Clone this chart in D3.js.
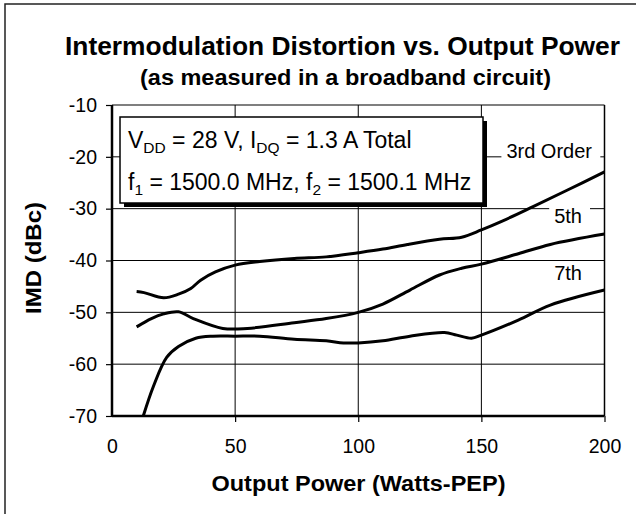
<!DOCTYPE html>
<html><head><meta charset="utf-8">
<script src="https://cdn.jsdelivr.net/npm/d3@7"></script>
<style>
html,body{margin:0;padding:0;background:#fff;}
svg{display:block;font-family:"Liberation Sans",Arial,sans-serif;}
</style></head>
<body>
<script>
// ---- data ----
const xTicks = [0, 50, 100, 150, 200];
const yTicks = [-70, -60, -50, -40, -30, -20, -10];

const power3 = [10, 13, 21, 27, 32, 36, 42, 50, 60, 74, 87, 100, 110, 120, 133, 142, 150, 158, 171, 185, 200];
const imd3   = [-46.0, -46.2, -47.2, -46.5, -45.4, -43.8, -42.2, -40.9, -40.2, -39.6, -39.3, -38.5, -37.8, -36.9, -35.9, -35.5, -34.1, -32.5, -29.6, -26.4, -22.9];

const power5 = [10, 16, 21, 27, 33, 45, 55, 74, 87, 100, 110, 121, 133, 142, 150, 165, 178, 200];
const imd5   = [-52.8, -51.2, -50.3, -49.9, -51.2, -53.1, -53.1, -52.0, -51.2, -50.0, -48.4, -45.7, -42.8, -41.5, -40.7, -38.7, -36.9, -34.9];

const power7 = [12.7, 16.8, 22.2, 27, 34, 41, 50, 60, 74, 87, 94, 100, 110, 121, 135, 140, 146, 150, 165, 178, 200];
const imd7   = [-70, -64.3, -58.7, -56.6, -55.0, -54.6, -54.6, -54.6, -55.2, -55.5, -55.9, -55.9, -55.5, -54.6, -53.9, -54.4, -55.0, -54.4, -51.5, -48.6, -45.7];

const seriesLabels = ["3rd Order", "5th", "7th"];
const titleText = "Intermodulation Distortion vs. Output Power";
const subtitleText = "(as measured in a broadband circuit)";
const xTitle = "Output Power (Watts-PEP)";
const yTitle = "IMD (dBc)";

// ---- layout ----
const W = 636, H = 514;
const svg = d3.select("body").append("svg").attr("width", W).attr("height", H);

const x = d3.scaleLinear().domain([0, 200]).range([112, 604.5]);
const y = d3.scaleLinear().domain([-70, -10]).range([416, 105]);
const labelBaselines = [158, 223, 280];

// outer frame
svg.append("rect").attr("x", 5).attr("y", 4).attr("width", 700).attr("height", 600)
  .attr("fill", "none").attr("stroke", "#222").attr("stroke-width", 1.5);

// titles
svg.append("text").attr("x", 342.5).attr("y", 55).attr("text-anchor", "middle")
  .attr("font-weight", "bold").attr("font-size", 26)
  .attr("textLength", 555).attr("lengthAdjust", "spacingAndGlyphs").text(titleText);
svg.append("text").attr("x", 345.5).attr("y", 85).attr("text-anchor", "middle")
  .attr("font-weight", "bold").attr("font-size", 22)
  .attr("textLength", 411).attr("lengthAdjust", "spacingAndGlyphs").text(subtitleText);

// gridlines
const g = svg.append("g");
g.selectAll("line.hg").data(yTicks.filter(v => v > -70 && v < -10)).join("line")
  .attr("x1", x(0)).attr("x2", x(200)).attr("y1", d => y(d)).attr("y2", d => y(d))
  .attr("stroke", "#000").attr("stroke-width", 1);
g.selectAll("line.vg").data(xTicks.filter(v => v > 0 && v < 200)).join("line")
  .attr("x1", d => x(d)).attr("x2", d => x(d)).attr("y1", y(-10)).attr("y2", y(-70))
  .attr("stroke", "#000").attr("stroke-width", 1);
g.append("line").attr("x1", x(0)).attr("x2", x(200)).attr("y1", y(-10)).attr("y2", y(-10)).attr("stroke", "#000").attr("stroke-width", 1.2);
g.append("line").attr("x1", x(200)).attr("x2", x(200)).attr("y1", y(-10)).attr("y2", y(-70)).attr("stroke", "#000").attr("stroke-width", 1.5);

// axes
const fmt = d => String(d);
const yAxis = svg.append("g").attr("transform", `translate(${x(0)},0)`)
  .call(d3.axisLeft(y).tickValues(yTicks).tickSize(6).tickPadding(9).tickFormat(fmt));
const xAxis = svg.append("g").attr("transform", `translate(0,${y(-70)})`)
  .call(d3.axisBottom(x).tickValues(xTicks).tickSize(6).tickPadding(17).tickFormat(fmt));
[yAxis, xAxis].forEach(a => {
  a.select(".domain").attr("stroke", "#000").attr("stroke-width", 2.5);
  a.selectAll(".tick line").attr("stroke", "#000").attr("stroke-width", 1.2);
  a.selectAll(".tick text").attr("font-size", 19.5).attr("fill", "#000")
    .attr("font-family", "'Liberation Sans', Arial, sans-serif");
});
xAxis.select(".domain").attr("d", `M${x(0)},0H${x(200)}`);
yAxis.select(".domain").attr("d", `M0,${y(-10)}V${y(-70)}`);
xAxis.selectAll(".tick").filter(d => d === 0).select("line").remove();

// axis titles
svg.append("text").attr("x", 358.5).attr("y", 491).attr("text-anchor", "middle")
  .attr("font-weight", "bold").attr("font-size", 22)
  .attr("textLength", 294).attr("lengthAdjust", "spacingAndGlyphs").text(xTitle);
svg.append("text").attr("transform", "translate(41,258) rotate(-90)").attr("text-anchor", "middle")
  .attr("font-weight", "bold").attr("font-size", 22)
  .attr("textLength", 112).attr("lengthAdjust", "spacingAndGlyphs").text(yTitle);

// curves
const line = d3.line().x(d => x(d[0])).y(d => y(d[1])).curve(d3.curveCatmullRom.alpha(0.5));
const series = [[power3, imd3], [power5, imd5], [power7, imd7]];
svg.append("g").selectAll("path").data(series).join("path")
  .attr("d", s => line(s[0].map((p, i) => [p, s[1][i]])))
  .attr("fill", "none").attr("stroke", "#000").attr("stroke-width", 3)
  .attr("stroke-linejoin", "round");

// series labels with white background
const lg = svg.append("g");
seriesLabels.forEach((t, i) => {
  const txt = lg.append("text").attr("font-size", 20).attr("fill", "#000")
    .attr("text-anchor", "end").attr("x", i === 0 ? 592 : 582).attr("y", labelBaselines[i]).text(t);
  const bb = txt.node().getBBox();
  lg.insert("rect", "text").attr("x", bb.x - 5).attr("y", bb.y).attr("width", bb.width + 13)
    .attr("height", bb.height).attr("fill", "#fff");
});

// condition box with shadow
const bx = 120, by = 117, bw = 363, bh = 86;
svg.append("rect").attr("x", bx + 4).attr("y", by + 4).attr("width", bw).attr("height", bh).attr("fill", "#000");
svg.append("rect").attr("x", bx).attr("y", by).attr("width", bw).attr("height", bh)
  .attr("fill", "#fff").attr("stroke", "#000").attr("stroke-width", 1.5);

function rich(xp, yp, parts) {
  const t = svg.append("text").attr("x", xp).attr("y", yp).attr("font-size", 23).attr("fill", "#000");
  let prevSub = false;
  parts.forEach(p => {
    const s = t.append("tspan").text(p[0]);
    if (p[1]) s.attr("font-size", 15.5).attr("dy", 5);
    else if (prevSub) s.attr("dy", -5);
    prevSub = p[1];
  });
}
rich(128, 148, [["V", false], ["DD", true], [" = 28 V, I", false], ["DQ", true], [" = 1.3 A Total", false]]);
rich(128, 190, [["f", false], ["1", true], [" = 1500.0 MHz, f", false], ["2", true], [" = 1500.1 MHz", false]]);
</script>
</body></html>
